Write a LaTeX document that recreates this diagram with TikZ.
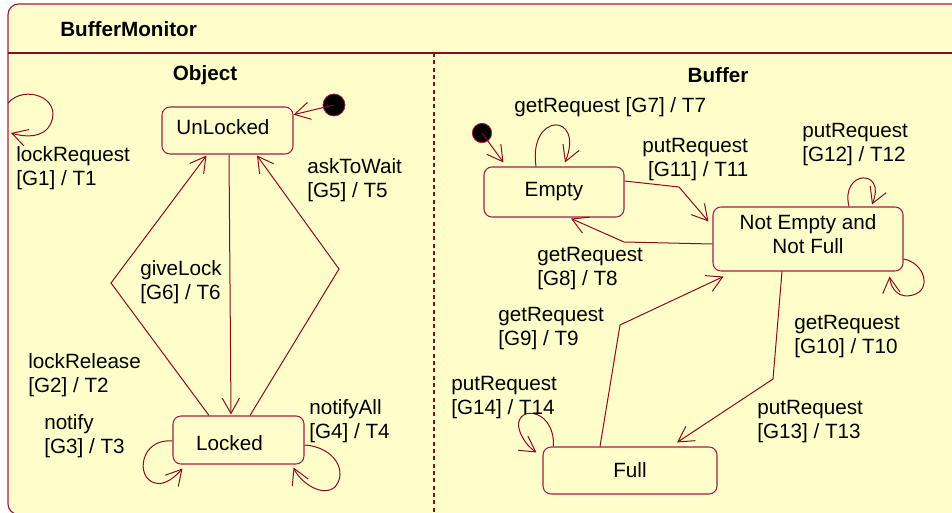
\documentclass[tikz,border=0pt]{standalone}
\usepackage{fontspec}
\setmainfont{Liberation Sans}
\usetikzlibrary{arrows.meta,calc}
\definecolor{bg}{RGB}{255,255,204}
\definecolor{mar}{RGB}{140,10,30}
\definecolor{boxc}{RGB}{160,30,70}
\begin{document}
\begin{tikzpicture}[x=0.75pt,y=-0.75pt,
  every node/.style={font=\fontsize{15.5}{18}\selectfont},
  state/.style={draw=boxc, line width=0.8pt, rounded corners=6pt, fill=bg, inner sep=0pt},
  lbl/.style={anchor=west, align=left, inner sep=0pt},
  tr/.style={draw=mar, line width=0.75pt, -{Straight Barb[length=11.5pt,width=13pt]}},
  titletext/.style={font=\fontsize{15.5}{18}\selectfont\bfseries, inner sep=0pt},
  initdot/.style={circle, fill=black, draw=boxc, line width=0.6pt, inner sep=0pt}]
\useasboundingbox (0,0) rectangle (952,513);
\fill[white] (0,0) rectangle (952,513);
% frame
\draw[draw=boxc, fill=bg, line width=0.9pt, rounded corners=8pt] (8,4) rectangle (966,514.5);
\draw[mar, line width=1.3pt] (8,53) -- (952,53);
\draw[mar, line width=0.8pt, dash pattern=on 3pt off 2.5pt] (434,53) -- (434,513);
% titles
\node[titletext, anchor=west] (tmon) at (60,29) {BufferMonitor};
\node[titletext] (tobj) at (205,75) {Object};
\node[titletext] (tbuf) at (718,75) {Buffer};
% states
\node[state, minimum width=98.25pt, minimum height=35.25pt,
      label={[xshift=-3.4pt,yshift=2.6pt]center:UnLocked}] (unlocked) at (227.5,130.5) {};
\node[state, minimum width=98.25pt, minimum height=36pt,
      label={[xshift=-6.75pt,yshift=-2.2pt]center:Locked}] (locked) at (238.5,440) {};
\node[state, minimum width=105pt, minimum height=37.5pt] (empty) at (554,192) {Empty};
\node[state, minimum width=142.5pt, minimum height=48pt,
      label={[align=center,yshift=3.5pt]center:{Not Empty and\\Not Full}}] (ne) at (808,239) {};
\node[state, minimum width=130.5pt, minimum height=35.25pt] (full) at (630,470.5) {Full};
% initial dots
\node[initdot, minimum size=16.5pt] (dotA) at (334,105) {};
\node[initdot, minimum size=14.5pt] (dotB) at (482,133) {};
\coordinate (fl1) at (8,103);
\coordinate (fl2) at (11,133);
% Object transitions
\draw[tr] (dotA.center) -- (unlocked);
\draw[tr] (fl1) .. controls (25,84) and (62,98) .. (51,123) .. controls (44,139) and (24,137) .. (fl2);
\draw[tr] ($(unlocked.south)+(1.5,0)$) -- ($(locked.north)+(-7.5,-1)$);
\draw[tr] ($(locked.north)+(-29.5,0)$) -- (111,283) -- ($(unlocked.south)+(-21,1)$);
\draw[tr] ($(locked.north)+(11.5,0)$) -- (339,269) -- ($(unlocked.south)+(29.5,1)$);
\draw[tr] ($(locked.west)+(0,1)$) .. controls (140,438) and (135,478) .. (155,483)
          .. controls (165,486) and (176,476) .. ($(locked.south west)+(10,4)$);
\draw[tr] ($(locked.east)+(0,5)$) .. controls (335,447) and (348,472) .. (335,487)
          .. controls (322,498) and (300,482) .. ($(locked.south east)+(-11,3)$);
% Buffer transitions
\draw[tr] (dotB.center) -- ($(empty.north west)+(20,-4)$);
\draw[tr] ($(empty.north)+(-18,0)$) .. controls (528,112) and (585,112) .. ($(empty.north)+(11,-4)$);
\draw[tr] ($(empty.east)+(0,-11)$) -- (679,187) -- ($(ne.north west)+(-4,15)$);
\draw[tr] ($(ne.west)+(0,5)$) -- (624,242) -- ($(empty.south)+(17,1)$);
\draw[tr] ($(ne.north)+(41,0)$) .. controls (840,170) and (887,168) .. ($(ne.north)+(64,-2)$);
\draw[tr] ($(ne.east)+(0,20)$) .. controls (925,263) and (932,290) .. (913,295)
          .. controls (900,299) and (891,290) .. ($(ne.south east)+(-14,5)$);
\draw[tr] ($(full.north)+(-30,0)$) -- (620,325) -- ($(ne.south west)+(11,5)$);
\draw[tr] ($(ne.south)+(-26,0)$) -- (773,379) -- ($(full.north)+(47,-4)$);
\draw[tr] ($(full.north west)+(11,0)$) .. controls (555,405) and (510,405) .. (520,432)
          .. controls (524,442) and (530,448) .. ($(full.north west)+(-6,6)$);
% labels
\node[lbl] (lreq) at (16,168) {lockRequest\\{[G1] / T1}};
\node[lbl] (lask) at (307,180) {askToWait\\{[G5] / T5}};
\node[lbl] (lgive) at (140,282) {giveLock\\{[G6] / T6}};
\node[lbl] (lrel) at (28,375) {lockRelease\\{[G2] / T2}};
\node[lbl] (lnot) at (44,436) {notify\\{[G3] / T3}};
\node[lbl] (lnall) at (309,421) {notifyAll\\{[G4] / T4}};
\node[lbl] (lg7) at (514,107) {getRequest [G7] / T7};
\node[lbl] (lg11) at (642,160) {putRequest\\\hspace*{0.28em}{[G11] / T11}};
\node[lbl] (lg12) at (802,145) {putRequest\\{[G12] / T12}};
\node[lbl] (lg8) at (537,269) {getRequest\\{[G8] / T8}};
\node[lbl] (lg9) at (498,329) {getRequest\\{[G9] / T9}};
\node[lbl] (lg10) at (794,336.5) {getRequest\\{[G10] / T10}};
\node[lbl] (lg13) at (757,421.5) {putRequest\\{[G13] / T13}};
\node[lbl] (lg14) at (451,397.5) {putRequest\\{[G14] / T14}};
\end{tikzpicture}
\end{document}
